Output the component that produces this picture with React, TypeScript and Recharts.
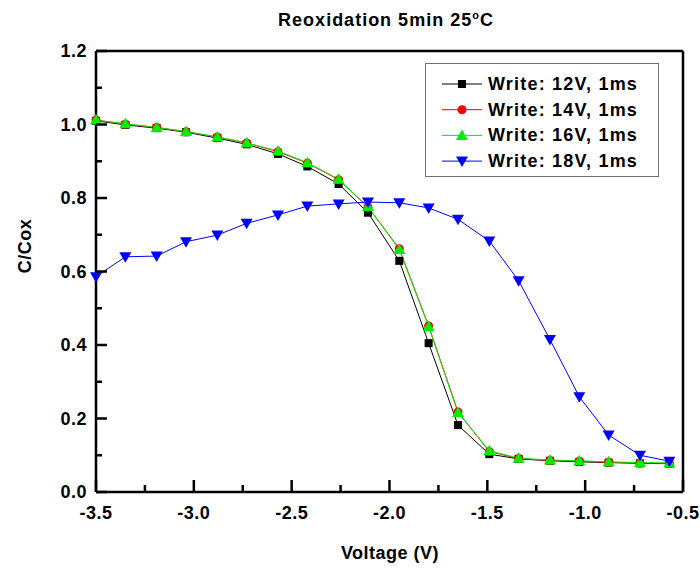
import React from 'react';
import { LineChart, Line, XAxis, YAxis } from 'recharts';

// Voltage sweep (V)
const voltage = [-3.5, -3.35, -3.19, -3.04, -2.88, -2.73, -2.57, -2.42, -2.26, -2.11,
  -1.95, -1.8, -1.65, -1.49, -1.34, -1.18, -1.03, -0.88, -0.72, -0.57];

// C/Cox for each write condition
const write12 = [1.01, 0.999, 0.99, 0.979, 0.963, 0.946, 0.92, 0.886, 0.838, 0.76,
  0.629, 0.405, 0.182, 0.103, 0.09, 0.085, 0.082, 0.08, 0.078, 0.077];
const write14 = [1.012, 1.001, 0.992, 0.98, 0.966, 0.95, 0.926, 0.895, 0.85, 0.775,
  0.662, 0.452, 0.218, 0.11, 0.091, 0.086, 0.084, 0.081, 0.079, 0.078];
const write16 = [1.012, 1.002, 0.992, 0.981, 0.966, 0.95, 0.928, 0.896, 0.851, 0.776,
  0.66, 0.45, 0.216, 0.112, 0.092, 0.087, 0.085, 0.082, 0.08, 0.079];
const write18 = [0.586, 0.64, 0.642, 0.681, 0.699, 0.731, 0.754, 0.778, 0.784, 0.789,
  0.787, 0.773, 0.742, 0.683, 0.575, 0.415, 0.259, 0.155, 0.1, 0.084];

const xTicks = [-3.5, -3.25, -3.0, -2.75, -2.5, -2.25, -2.0, -1.75, -1.5, -1.25, -1.0, -0.75, -0.5];
const yTicks = [0, 0.1, 0.2, 0.3, 0.4, 0.5, 0.6, 0.7, 0.8, 0.9, 1.0, 1.1, 1.2];

const FONT = '"Liberation Sans", Arial, sans-serif';

const data = voltage.map((v, i) => ({
  v,
  w12: write12[i],
  w14: write14[i],
  w16: write16[i],
  w18: write18[i],
}));

type Shape = 'square' | 'circle' | 'up' | 'down';

const series: { key: string; name: string; color: string; shape: Shape }[] = [
  { key: 'w12', name: 'Write: 12V, 1ms', color: '#000000', shape: 'square' },
  { key: 'w14', name: 'Write: 14V, 1ms', color: '#ff0000', shape: 'circle' },
  { key: 'w16', name: 'Write: 16V, 1ms', color: '#00ee00', shape: 'up' },
  { key: 'w18', name: 'Write: 18V, 1ms', color: '#0000ff', shape: 'down' },
];

const Marker = ({ cx, cy, color, shape }: { cx: number; cy: number; color: string; shape: Shape }) => {
  if (cx == null || cy == null) return null;
  switch (shape) {
    case 'square':
      return <rect x={cx - 4} y={cy - 4} width={8} height={8} fill={color} />;
    case 'circle':
      return <circle cx={cx} cy={cy} r={4.5} fill={color} />;
    case 'up':
      return <polygon points={`${cx},${cy - 6} ${cx + 6},${cy + 4.5} ${cx - 6},${cy + 4.5}`} fill={color} />;
    default:
      return <polygon points={`${cx - 6},${cy - 4.5} ${cx + 6},${cy - 4.5} ${cx},${cy + 6}`} fill={color} />;
  }
};

const isMult = (v: number, step: number) => Math.abs(v / step - Math.round(v / step)) < 1e-6;

// bottom axis: inward ticks, labels on majors only
const XTick = (props: any) => {
  const { x, y, payload } = props;
  const major = isMult(payload.value, 0.5);
  const len = major ? 12 : 7;
  return (
    <g>
      <path d={`M${x},${y} V${y - len}`} stroke="#000" strokeWidth={2.5} fill="none" />
      {major && (
        <text x={x} y={y + 27} textAnchor="middle" fontFamily={FONT} fontWeight="bold"
          fontSize={18} letterSpacing={0.5} fill="#000">
          {payload.value.toFixed(1)}
        </text>
      )}
    </g>
  );
};

const YTick = (props: any) => {
  const { x, y, payload } = props;
  const major = isMult(payload.value, 0.2);
  const len = major ? 11 : 6;
  return (
    <g>
      <path d={`M${x},${y} H${x + len}`} stroke="#000" strokeWidth={2.5} fill="none" />
      {major && (
        <text x={x - 9} y={y + 6} textAnchor="end" fontFamily={FONT} fontWeight="bold"
          fontSize={18} letterSpacing={0.5} fill="#000">
          {payload.value.toFixed(1)}
        </text>
      )}
    </g>
  );
};

const RightTick = (props: any) => {
  const { x, y } = props;
  return <path d={`M${x},${y} H${x - 5}`} stroke="#000" strokeWidth={2} fill="none" />;
};

const LegendBox = () => (
  <div style={{ position: 'absolute', left: 425, top: 63, width: 234, height: 114,
    border: '1px solid #707070', boxSizing: 'border-box', background: '#fff' }}>
    <svg width={232} height={112}>
      {series.map((s, i) => {
        const cy = 20 + i * 25.7;
        return (
          <g key={s.key}>
            <line x1={16} x2={56} y1={cy} y2={cy} stroke={s.color} strokeWidth={1} />
            <Marker cx={36} cy={cy} color={s.color} shape={s.shape} />
            <text x={62} y={cy + 6} fontFamily={FONT} fontWeight="bold" fontSize={18}
              letterSpacing={1.2} fill="#000">{s.name}</text>
          </g>
        );
      })}
    </svg>
  </div>
);

export default function App() {
  return (
    <div style={{ position: 'absolute', left: 0, top: 0, width: 700, height: 570, background: '#fff' }}>
      <LineChart width={700} height={570} data={data}
        margin={{ top: 50, right: 16, bottom: 77, left: 95 }}>
        <XAxis dataKey="v" type="number" domain={[-3.5, -0.5]} ticks={xTicks} interval={0}
          height={1} tickSize={0} tickMargin={0} tickLine={false} tick={<XTick />}
          axisLine={{ stroke: '#000', strokeWidth: 2.5 }} />
        <XAxis xAxisId="top" dataKey="v" type="number" domain={[-3.5, -0.5]} orientation="top"
          height={1} tick={false} tickLine={false} axisLine={{ stroke: '#000', strokeWidth: 2.5 }} />
        <YAxis type="number" domain={[0, 1.2]} ticks={yTicks} interval={0} width={1}
          tickSize={0} tickMargin={0} tickLine={false} tick={<YTick />}
          axisLine={{ stroke: '#000', strokeWidth: 2.5 }} />
        <YAxis yAxisId="right" orientation="right" type="number" domain={[0, 1.2]} ticks={yTicks}
          interval={0} width={1} tickSize={0} tickMargin={0} tickLine={false} tick={<RightTick />}
          axisLine={{ stroke: '#000', strokeWidth: 2.5 }} />
        {series.map((s) => (
          <Line key={s.key} dataKey={s.key} name={s.name} type="linear" stroke={s.color}
            strokeWidth={1} isAnimationActive={false}
            dot={(p: any) => <Marker key={`${s.key}-${p.index}`} cx={p.cx} cy={p.cy} color={s.color} shape={s.shape} />}
            activeDot={false} />
        ))}
        <text x={386} y={26} textAnchor="middle" fontFamily={FONT} fontWeight="bold" fontSize={18}
          letterSpacing={1} fill="#000">
          Reoxidation 5min 25<tspan dy={-7} fontSize={11}>o</tspan><tspan dy={7}>C</tspan>
        </text>
        <text x={390} y={559} textAnchor="middle" fontFamily={FONT} fontWeight="bold" fontSize={18}
          letterSpacing={0.5} fill="#000">Voltage (V)</text>
        <text x={25} y={246} textAnchor="middle" dominantBaseline="central" transform="rotate(-90 25 246)"
          fontFamily={FONT} fontWeight="bold" fontSize={18} letterSpacing={0.5} fill="#000">C/Cox</text>
      </LineChart>
      <LegendBox />
    </div>
  );
}
